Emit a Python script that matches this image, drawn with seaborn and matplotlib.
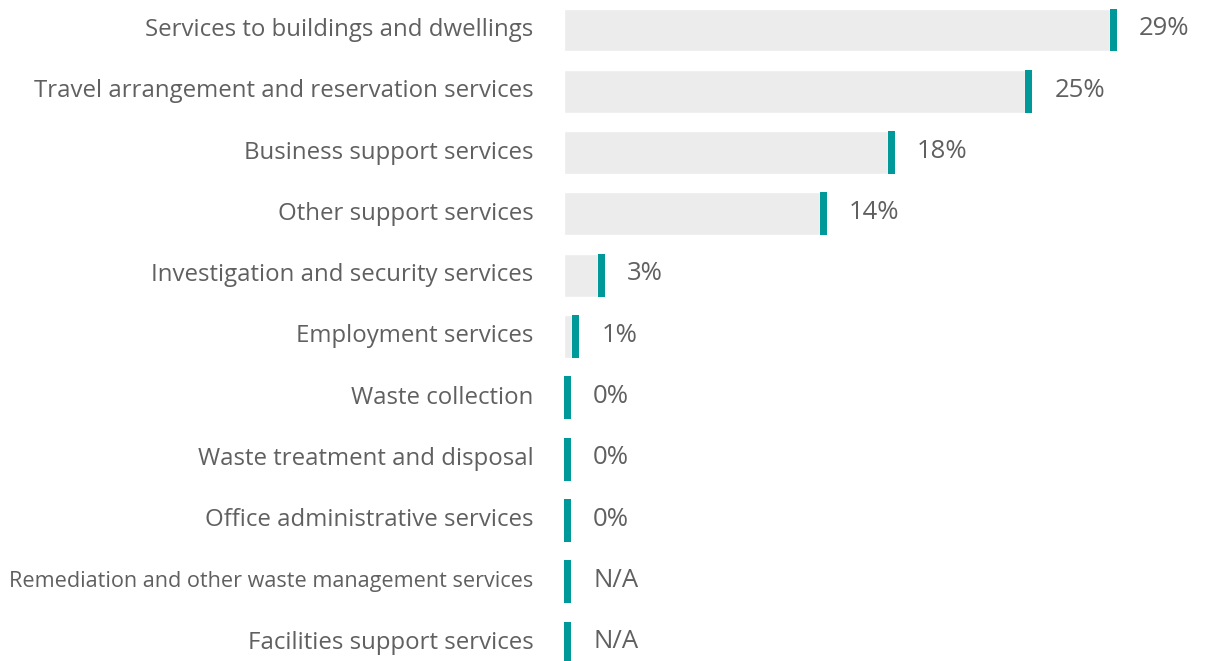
import matplotlib
matplotlib.use('Agg')
import matplotlib.pyplot as plt
import matplotlib.transforms as mtrans
import seaborn as sb
import pandas as pd

# categories, shares and printed labels
categories = [
    "Services to buildings and dwellings",
    "Travel arrangement and reservation services",
    "Business support services",
    "Other support services",
    "Investigation and security services",
    "Employment services",
    "Waste collection",
    "Waste treatment and disposal",
    "Office administrative services",
    "Remediation and other waste management services",
    "Facilities support services",
]
shares = [29.0, 24.5, 17.2, 13.6, 1.8, 0.45, 0, 0, 0, 0, 0]
value_labels = ["29%", "25%", "18%", "14%", "3%", "1%", "0%", "0%", "0%", "N/A", "N/A"]

df = pd.DataFrame({"category": categories, "share": shares, "label": value_labels})

sb.set_style("white")
plt.rcParams['font.family'] = ['Open Sans', 'DejaVu Sans']

grey_txt = "#606060"
teal = "#009999"
bar_grey = "#ececec"
fs = 17.3

fig = plt.figure(figsize=(12.07, 6.61), dpi=100)
ax = fig.add_axes([564 / 1207, 0, 643 / 1207, 1])

px = 18.83  # pixels per percentage point
sb.barplot(data=df, x="share", y="category", color=bar_grey, width=0.7,
           saturation=1, ax=ax, orient="h")

mark_w = 7 / px
ax.barh(range(len(df)), [mark_w] * len(df), left=df["share"], height=0.7,
        color=teal, linewidth=0)

for i, row in df.iterrows():
    ax.text(row["share"] + mark_w + 22 / px, i - 0.02, row["label"], va="center",
            ha="left", fontsize=18.5, color=grey_txt)

ax.set_xlim(0, 643 / px)
ax.set_ylim(10.294, -0.489)
ax.set_xlabel("")
ax.set_ylabel("")
ax.set_xticks([])
ax.tick_params(axis="y", length=0, pad=22, labelsize=fs, labelcolor=grey_txt)
shift = mtrans.ScaledTranslation(0, 3 / 100, fig.dpi_scale_trans)
for t in ax.get_yticklabels():
    t.set_transform(t.get_transform() + shift)
    if t.get_text().startswith("Remediation"):
        t.set_fontsize(15.6)
for s in ax.spines.values():
    s.set_visible(False)

fig.savefig("out.png", dpi=100)
